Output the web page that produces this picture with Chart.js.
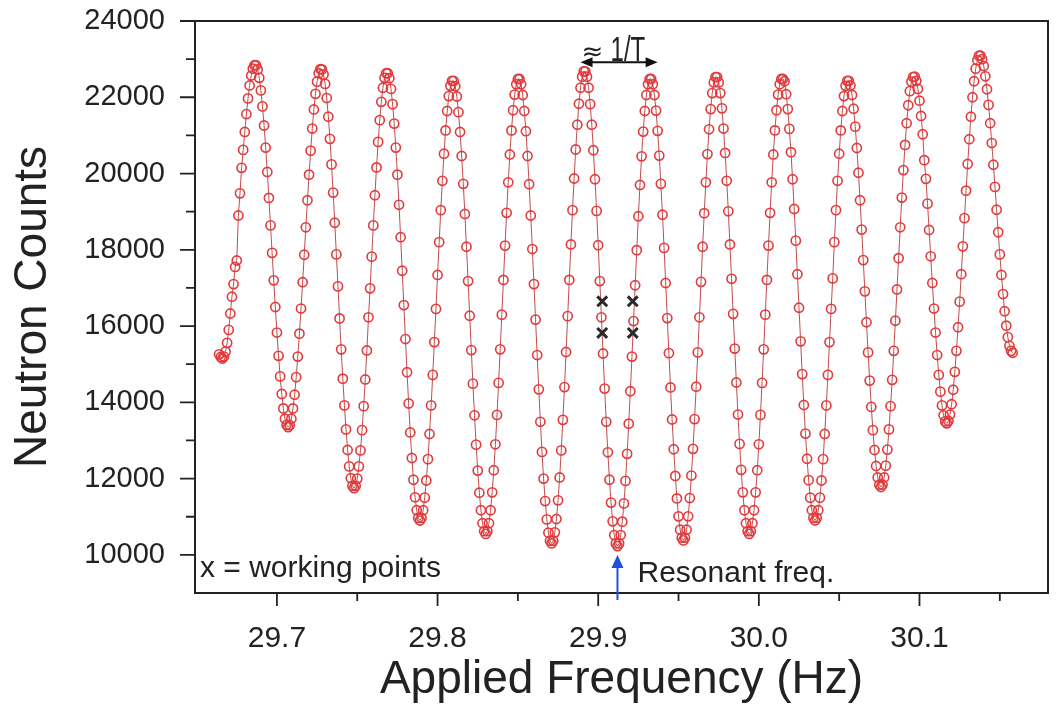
<!DOCTYPE html>
<html>
<head>
<meta charset="utf-8">
<title>Neutron Counts vs Applied Frequency</title>
<script src="https://cdn.jsdelivr.net/npm/chart.js@4.4.1/dist/chart.umd.min.js"></script>
<style>
  html, body { margin: 0; padding: 0; background: #fff; }
  #ramsey { display: block; }
</style>
</head>
<body>
<canvas id="ramsey" width="1058" height="713"></canvas>
<script>
// scan frequencies (Hz), one per measured point
const freqHz = [
  29.664,29.665,29.666,29.667,29.668,29.669,29.670,29.671,29.672,29.673,
  29.674,29.675,29.676,29.677,29.678,29.679,29.680,29.681,29.682,29.683,
  29.684,29.685,29.686,29.687,29.688,29.689,29.690,29.691,29.692,29.693,
  29.694,29.695,29.696,29.697,29.698,29.699,29.700,29.701,29.702,29.703,
  29.704,29.705,29.706,29.707,29.708,29.709,29.710,29.711,29.712,29.713,
  29.714,29.715,29.716,29.717,29.718,29.719,29.720,29.721,29.722,29.723,
  29.724,29.725,29.726,29.727,29.728,29.729,29.730,29.731,29.732,29.733,
  29.734,29.735,29.736,29.737,29.738,29.739,29.740,29.741,29.742,29.743,
  29.744,29.745,29.746,29.747,29.748,29.749,29.750,29.751,29.752,29.753,
  29.754,29.755,29.756,29.757,29.758,29.759,29.760,29.761,29.762,29.763,
  29.764,29.765,29.766,29.767,29.768,29.769,29.770,29.771,29.772,29.773,
  29.774,29.775,29.776,29.777,29.778,29.779,29.780,29.781,29.782,29.783,
  29.784,29.785,29.786,29.787,29.788,29.789,29.790,29.791,29.792,29.793,
  29.794,29.795,29.796,29.797,29.798,29.799,29.800,29.801,29.802,29.803,
  29.804,29.805,29.806,29.807,29.808,29.809,29.810,29.811,29.812,29.813,
  29.814,29.815,29.816,29.817,29.818,29.819,29.820,29.821,29.822,29.823,
  29.824,29.825,29.826,29.827,29.828,29.829,29.830,29.831,29.832,29.833,
  29.834,29.835,29.836,29.837,29.838,29.839,29.840,29.841,29.842,29.843,
  29.844,29.845,29.846,29.847,29.848,29.849,29.850,29.851,29.852,29.853,
  29.854,29.855,29.856,29.857,29.858,29.859,29.860,29.861,29.862,29.863,
  29.864,29.865,29.866,29.867,29.868,29.869,29.870,29.871,29.872,29.873,
  29.874,29.875,29.876,29.877,29.878,29.879,29.880,29.881,29.882,29.883,
  29.884,29.885,29.886,29.887,29.888,29.889,29.890,29.891,29.892,29.893,
  29.894,29.895,29.896,29.897,29.898,29.899,29.900,29.901,29.902,29.903,
  29.904,29.905,29.906,29.907,29.908,29.909,29.910,29.911,29.912,29.913,
  29.914,29.915,29.916,29.917,29.918,29.919,29.920,29.921,29.922,29.923,
  29.924,29.925,29.926,29.927,29.928,29.929,29.930,29.931,29.932,29.933,
  29.934,29.935,29.936,29.937,29.938,29.939,29.940,29.941,29.942,29.943,
  29.944,29.945,29.946,29.947,29.948,29.949,29.950,29.951,29.952,29.953,
  29.954,29.955,29.956,29.957,29.958,29.959,29.960,29.961,29.962,29.963,
  29.964,29.965,29.966,29.967,29.968,29.969,29.970,29.971,29.972,29.973,
  29.974,29.975,29.976,29.977,29.978,29.979,29.980,29.981,29.982,29.983,
  29.984,29.985,29.986,29.987,29.988,29.989,29.990,29.991,29.992,29.993,
  29.994,29.995,29.996,29.997,29.998,29.999,30.000,30.001,30.002,30.003,
  30.004,30.005,30.006,30.007,30.008,30.009,30.010,30.011,30.012,30.013,
  30.014,30.015,30.016,30.017,30.018,30.019,30.020,30.021,30.022,30.023,
  30.024,30.025,30.026,30.027,30.028,30.029,30.030,30.031,30.032,30.033,
  30.034,30.035,30.036,30.037,30.038,30.039,30.040,30.041,30.042,30.043,
  30.044,30.045,30.046,30.047,30.048,30.049,30.050,30.051,30.052,30.053,
  30.054,30.055,30.056,30.057,30.058,30.059,30.060,30.061,30.062,30.063,
  30.064,30.065,30.066,30.067,30.068,30.069,30.070,30.071,30.072,30.073,
  30.074,30.075,30.076,30.077,30.078,30.079,30.080,30.081,30.082,30.083,
  30.084,30.085,30.086,30.087,30.088,30.089,30.090,30.091,30.092,30.093,
  30.094,30.095,30.096,30.097,30.098,30.099,30.100,30.101,30.102,30.103,
  30.104,30.105,30.106,30.107,30.108,30.109,30.110,30.111,30.112,30.113,
  30.114,30.115,30.116,30.117,30.118,30.119,30.120,30.121,30.122,30.123,
  30.124,30.125,30.126,30.127,30.128,30.129,30.130,30.131,30.132,30.133,
  30.134,30.135,30.136,30.137,30.138,30.139,30.140,30.141,30.142,30.143,
  30.144,30.145,30.146,30.147,30.148,30.149,30.150,30.151,30.152,30.153,
  30.154,30.155,30.156,30.157,30.158
];

// neutron counts (rise / fall of each fringe per line)
const counts = [
  15260,15190,
  15150,15200,15330,15560,15900,16330,16770,17100,17550,17720,18900,19480,20150,20620,21090,21560,21970,22310,22570,22750,22840,
  22840,22730,22510,22180,21760,21260,20680,20040,19360,18640,17920,17200,16500,15830,15220,14680,14220,13840,13570,13410,
  13350,13400,13570,13840,14200,14660,15200,15800,16460,17150,17870,18590,19300,19970,20600,21180,21680,22090,22410,22630,22740,
  22730,22600,22350,21980,21490,20910,20240,19500,18710,17880,17040,16200,15390,14620,13920,13290,12750,12320,12010,11810,
  11750,11810,12000,12320,12740,13270,13900,14600,15360,16230,16990,17820,18640,19430,20160,20830,21400,21880,22250,22510,22630,
  22630,22500,22220,21820,21310,20680,19970,19180,18330,17450,16550,15660,14790,13970,13210,12540,11970,11510,11170,10970,
  10900,10970,11170,11500,11950,12510,13170,13920,14720,15580,16450,17340,18200,19040,19810,20520,21130,21640,22030,22300,22430,
  22430,22290,22020,21610,21090,20460,19730,18940,18080,17180,16270,15370,14490,13660,12890,12210,11630,11170,10830,10620,
  10550,10620,10830,11170,11640,12220,12900,13670,14510,15390,16300,17210,18110,18970,19770,20500,21130,21660,22070,22340,22480,
  22480,22340,22060,21640,21110,20460,19720,18900,18020,17100,16170,15240,14340,13490,12700,12000,11410,10930,10580,10370,
  10300,10370,10590,10940,11430,12030,12740,13540,14400,15320,16260,17210,18140,19040,19870,20630,21280,21830,22250,22540,22680,
  22680,22540,22250,21820,21280,20610,19850,19020,18120,17180,16230,15280,14360,13490,12690,11970,11370,10880,10520,10300,
  10230,10300,10520,10870,11350,11940,12650,13440,14290,15200,16130,17070,17990,18880,19700,20450,21100,21640,22060,22340,22480,
  22480,22340,22060,21650,21120,20470,19730,18920,18050,17130,16210,15290,14390,13550,12770,12070,11480,11010,10660,10450,
  10380,10450,10660,11010,11490,12080,12780,13560,14410,15310,16230,17160,18080,18960,19770,20510,21160,21690,22110,22390,22530,
  22530,22390,22110,21710,21180,20540,19810,19010,18140,17240,16320,15410,14520,13680,12910,12230,11640,11170,10830,10620,
  10550,10620,10830,11170,11640,12220,12900,13670,14510,15390,16300,17210,18110,18970,19770,20500,21130,21660,22070,22340,22480,
  22480,22420,22080,21690,21170,20560,19850,19070,18240,17360,16480,15600,14740,13930,13180,12520,11960,11500,11170,10970,
  10900,10970,11170,11500,11950,12510,13170,13920,14720,15580,16450,17250,18200,19040,19810,20520,21130,21640,22030,22300,22430,
  22430,22310,22060,21700,21230,20670,20020,19300,18530,17730,16910,16100,15310,14570,13880,13270,12750,12330,12030,11840,
  11780,11840,12030,12340,12760,13290,13900,14590,15350,16140,16960,17780,18590,19370,20090,20750,21320,21790,22160,22410,22530,
  22540,22430,22220,21910,21510,21030,20350,19860,19210,18520,17830,17130,16460,15830,15240,14720,14280,13920,13660,13500,
  13450,13510,13680,13950,14330,14800,15350,15970,16640,17360,18090,18830,19550,20250,20900,21490,22000,22420,22750,22970,23090,
  23090,23000,22820,22550,22210,21800,21320,20800,20230,19650,19050,18460,17880,17340,16840,16390,16010,15710,15480,15350,
  15300
];

// working points marked with x
const workFreq = [29.9025, 29.9025, 29.9215, 29.9215];
const workCounts = [16650, 15820, 16650, 15820];

const xMajorTicks = [29.7, 29.8, 29.9, 30.0, 30.1];
const xMinorTicks = [29.75, 29.85, 29.95, 30.05, 30.15];
const yMajorTicks = [10000, 12000, 14000, 16000, 18000, 20000, 22000, 24000];
const yMinorTicks = [11000, 13000, 15000, 17000, 19000, 21000, 23000];

const resonantFreq = 29.912;
const periodSpan = [29.889, 29.937]; // ≈ 1/T arrow ends
const periodLevel = 22920;

const FONT = '"Liberation Sans", Arial, Helvetica, sans-serif';
const INK = '#222';
Chart.defaults.font.family = FONT;
Chart.defaults.color = INK;

// frame, tick marks and the annotations
const frameAndNotes = {
  id: 'frameAndNotes',
  afterDraw(chart) {
    const {ctx, chartArea: a, scales: {x, y}} = chart;
    ctx.save();
    ctx.strokeStyle = INK;
    ctx.lineWidth = 2;
    ctx.strokeRect(a.left, a.top, a.right - a.left, a.bottom - a.top);

    ctx.lineWidth = 1.8;
    ctx.beginPath();
    xMajorTicks.forEach(v => { const px = x.getPixelForValue(v); ctx.moveTo(px, a.bottom); ctx.lineTo(px, a.bottom + 13); });
    xMinorTicks.forEach(v => { const px = x.getPixelForValue(v); ctx.moveTo(px, a.bottom); ctx.lineTo(px, a.bottom + 8); });
    yMajorTicks.forEach(v => { const py = y.getPixelForValue(v); ctx.moveTo(a.left, py); ctx.lineTo(a.left - 15, py); });
    yMinorTicks.forEach(v => { const py = y.getPixelForValue(v); ctx.moveTo(a.left, py); ctx.lineTo(a.left - 9, py); });
    ctx.stroke();

    // resonant frequency arrow (blue)
    const rx = x.getPixelForValue(resonantFreq);
    const tip = a.bottom - 38;
    ctx.strokeStyle = '#1f4fe0';
    ctx.fillStyle = '#1f4fe0';
    ctx.lineWidth = 2;
    ctx.beginPath();
    ctx.moveTo(rx, a.bottom + 7);
    ctx.lineTo(rx, tip + 10);
    ctx.stroke();
    ctx.beginPath();
    ctx.moveTo(rx, tip);
    ctx.lineTo(rx - 6, tip + 13);
    ctx.lineTo(rx + 6, tip + 13);
    ctx.closePath();
    ctx.fill();

    ctx.fillStyle = INK;
    ctx.font = '30px ' + FONT;
    ctx.textBaseline = 'alphabetic';
    ctx.textAlign = 'left';
    ctx.fillText('Resonant freq.', rx + 20, a.bottom - 11);
    ctx.fillText('x = working points', a.left + 5, a.bottom - 16);

    // ≈ 1/T double arrow
    const x1 = x.getPixelForValue(periodSpan[0]);
    const x2 = x.getPixelForValue(periodSpan[1]);
    const ya = y.getPixelForValue(periodLevel);
    ctx.strokeStyle = '#111';
    ctx.fillStyle = '#111';
    ctx.lineWidth = 2;
    ctx.beginPath();
    ctx.moveTo(x1 + 6, ya);
    ctx.lineTo(x2 - 6, ya);
    ctx.stroke();
    ctx.beginPath();
    ctx.moveTo(x1, ya); ctx.lineTo(x1 + 12, ya - 5); ctx.lineTo(x1 + 12, ya + 5); ctx.closePath();
    ctx.moveTo(x2, ya); ctx.lineTo(x2 - 12, ya - 5); ctx.lineTo(x2 - 12, ya + 5); ctx.closePath();
    ctx.fill();

    ctx.fillStyle = INK;
    ctx.font = '26px "DejaVu Sans", ' + FONT;
    ctx.fillText('≈', x1 + 1, ya - 2);
    ctx.save();
    ctx.translate(x1 + 30, ya - 1);
    ctx.scale(0.8, 1.15);
    ctx.font = '30px ' + FONT;
    ctx.fillText('1/T', 0, 0);
    ctx.restore();
    ctx.restore();
  }
};

new Chart(document.getElementById('ramsey'), {
  type: 'line',
  data: {
    datasets: [{
      label: 'Neutron counts',
      data: freqHz.map((f, i) => ({x: f, y: counts[i]})),
      borderColor: 'rgba(185,45,45,0.85)',
      borderWidth: 1,
      pointRadius: 4.6,
      pointBorderWidth: 1.6,
      pointBorderColor: '#e23a3c',
      pointBackgroundColor: 'rgba(255,255,255,0)',
      tension: 0,
      order: 2
    }, {
      label: 'Working points',
      data: workFreq.map((f, i) => ({x: f, y: workCounts[i]})),
      showLine: false,
      pointStyle: 'crossRot',
      pointRadius: 7,
      pointBorderWidth: 3,
      pointBorderColor: '#2a2a2a',
      order: 1
    }]
  },
  plugins: [frameAndNotes],
  options: {
    responsive: false,
    animation: false,
    layout: { padding: { top: 21, right: 10, bottom: 0, left: 0 } },
    plugins: {
      legend: { display: false },
      tooltip: { enabled: false }
    },
    scales: {
      x: {
        type: 'linear',
        min: 29.649,
        max: 30.180,
        afterFit: (s) => { s.height = 120; s.paddingLeft = 0; s.paddingRight = 0; },
        afterBuildTicks: (s) => { s.ticks = xMajorTicks.map(v => ({value: v})); },
        grid: { display: false, drawTicks: false },
        border: { display: false },
        ticks: {
          padding: 28,
          font: { size: 30 },
          color: INK,
          maxRotation: 0,
          callback: (v) => Number(v).toFixed(1)
        },
        title: {
          display: true,
          text: 'Applied Frequency (Hz)',
          font: { size: 46 },
          color: INK,
          padding: { top: 0, bottom: 5 }
        }
      },
      y: {
        type: 'linear',
        min: 9000,
        max: 24000,
        afterFit: (s) => { s.width = 195; s.paddingTop = 0; s.paddingBottom = 0; },
        afterBuildTicks: (s) => { s.ticks = yMajorTicks.map(v => ({value: v})); },
        grid: { display: false, drawTicks: false },
        border: { display: false },
        ticks: {
          padding: 30,
          font: { size: 29 },
          color: INK,
          callback: (v) => String(v)
        },
        title: {
          display: true,
          text: 'Neutron Counts',
          font: { size: 46 },
          color: INK,
          padding: { top: 6, bottom: 0 }
        }
      }
    }
  }
});
</script>
</body>
</html>
